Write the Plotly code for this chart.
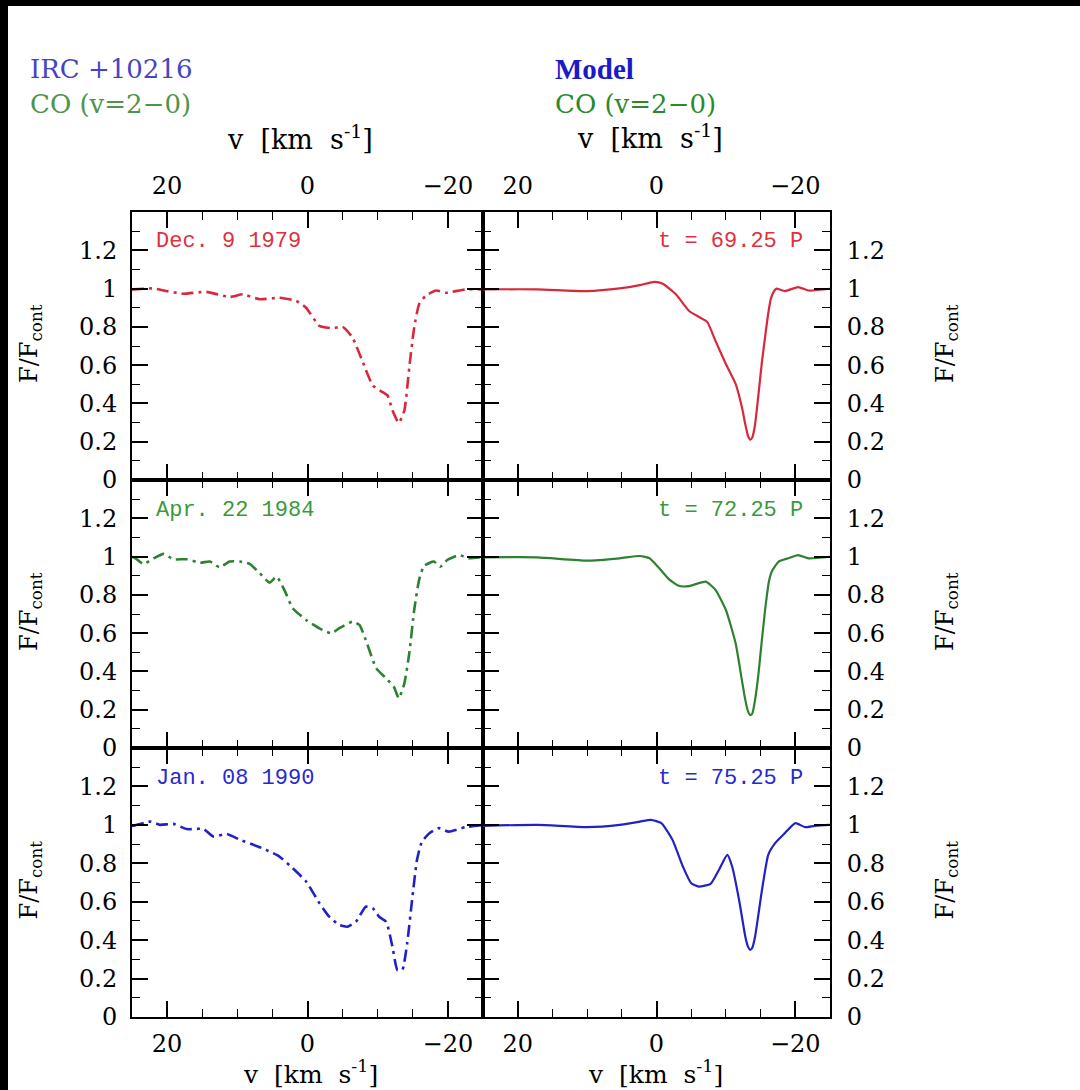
import plotly.graph_objects as go

# ---------------- data ----------------
v_obs_1979 = [25.0, 24.8, 21.9, 20.5, 17.7, 14.4, 11.1, 9.2, 6.8, 4.0, 1.6, 0.2, -1.7, -3.6, -5.0, -6.4,
              -7.8, -9.3, -10.7, -11.4, -12.1, -13.0, -13.8, -14.5, -15.2, -15.9, -16.8, -18.3, -19.7,
              -22.5, -25.0]
f_obs_1979 = [0.996, 0.996, 1.001, 0.99, 0.973, 0.983, 0.956, 0.97, 0.944, 0.952, 0.935, 0.90, 0.805,
              0.793, 0.80, 0.745, 0.623, 0.494, 0.459, 0.442, 0.364, 0.298, 0.364, 0.589, 0.797, 0.918,
              0.961, 0.99, 0.978, 0.996, 0.996]

v_mod_1979 = [25.0, 17.2, 10.0, 5.3, 2.4, 0.3, -0.9, -2.8, -4.7, -6.1, -7.3, -8.5, -10.0, -11.4,
              -12.3, -12.8, -13.2, -13.5, -13.8, -14.2, -14.7, -15.2, -15.7, -16.1, -16.5, -17.0, -17.3,
              -18.5, -20.4, -21.9, -25.0]
f_mod_1979 = [0.996, 0.996, 0.987, 1.001, 1.018, 1.035, 1.025, 0.97, 0.883, 0.852, 0.826, 0.727,
              0.606, 0.502, 0.381, 0.29, 0.228, 0.211, 0.222, 0.29, 0.45, 0.62, 0.762, 0.87, 0.95, 0.99,
              1.0, 0.987, 1.008, 0.99, 0.999]

v_obs_1984 = [25.0, 24.5, 23.4, 21.9, 20.5, 19.1, 17.2, 15.3, 13.9, 12.5, 11.1, 9.6, 8.2, 6.8, 5.4, 4.4,
              3.3, 2.1, 0.2, -1.7, -3.4, -4.5, -6.4, -7.4, -8.3, -9.8, -11.2, -12.3, -13.0, -13.8, -14.5,
              -15.2, -15.9, -16.6, -18.0, -18.9, -19.9, -21.6, -23.0, -25.0]
f_obs_1984 = [0.999, 0.991, 0.961, 0.991, 1.014, 0.986, 0.986, 0.968, 0.974, 0.944, 0.974, 0.974, 0.961,
              0.913, 0.864, 0.895, 0.826, 0.73, 0.669, 0.625, 0.599, 0.625, 0.66, 0.643, 0.564, 0.416,
              0.364, 0.32, 0.26, 0.338, 0.495, 0.721, 0.878, 0.951, 0.974, 0.947, 0.982, 1.008, 0.991,
              0.999]

v_mod_1984 = [25.0, 17.2, 10.0, 5.3, 2.4, 1.0, -0.4, -1.9, -3.3, -4.7, -7.1, -8.5, -10.0, -11.4, -12.3,
              -12.8, -13.2, -13.5, -13.8, -14.2, -14.7, -15.2, -15.7, -16.2, -16.6, -17.6, -19.0, -20.4,
              -21.9, -25.0]
f_mod_1984 = [0.996, 0.996, 0.979, 0.991, 1.003, 0.991, 0.939, 0.878, 0.846, 0.846, 0.869, 0.826, 0.721,
              0.547, 0.355, 0.25, 0.19, 0.172, 0.18, 0.25, 0.39, 0.57, 0.738, 0.87, 0.921, 0.974, 0.991,
              1.008, 0.991, 0.999]

v_obs_1990 = [25.0, 24.8, 22.4, 21.0, 19.1, 17.2, 14.8, 13.4, 11.5, 9.6, 7.7, 5.9, 4.0, 2.1, 0.2, -1.7,
              -3.1, -4.5, -5.7, -6.9, -8.3, -9.3, -10.2, -11.2, -12.1, -12.8, -13.5, -14.2, -14.9, -15.6,
              -16.3, -17.5, -18.7, -20.1, -22.5, -25.0]
f_obs_1990 = [0.995, 0.995, 1.017, 1.0, 1.005, 0.978, 0.978, 0.939, 0.953, 0.922, 0.896, 0.87, 0.835,
              0.774, 0.705, 0.592, 0.522, 0.479, 0.47, 0.496, 0.574, 0.566, 0.522, 0.496, 0.366, 0.245,
              0.245, 0.384, 0.609, 0.818, 0.913, 0.96, 0.983, 0.965, 0.988, 1.0]

v_mod_1990 = [25.0, 17.2, 10.0, 5.3, 2.4, 0.8, -0.7, -2.3, -3.8, -5.0, -6.1, -7.8, -9.0, -10.2, -10.9,
              -11.9, -12.8, -13.2, -13.5, -13.8, -14.2, -15.2, -16.1, -17.1, -18.5, -20.0, -21.4, -22.8,
              -25.0]
f_mod_1990 = [0.995, 1.0, 0.988, 1.0, 1.017, 1.026, 1.009, 0.922, 0.783, 0.696, 0.679, 0.693, 0.766,
              0.844, 0.783, 0.609, 0.418, 0.365, 0.349, 0.36, 0.418, 0.661, 0.844, 0.905, 0.957, 1.009,
              0.988, 0.995, 1.0]

obs_labels = ["Dec. 9 1979", "Apr. 22 1984", "Jan. 08 1990"]
mod_labels = ["t = 69.25 P", "t = 72.25 P", "t = 75.25 P"]
row_colors = ["#d8283c", "#2c8230", "#2222c4"]
label_colors = ["#e0303c", "#3a9a3a", "#2828d0"]

x_ticks = [20, 0, -20]
y_ticks = [0, 0.2, 0.4, 0.6, 0.8, 1.0, 1.2]
y_ticktext = ["0", "0.2", "0.4", "0.6", "0.8", "1", "1.2"]

# ---------------- geometry ----------------
W, H = 1080, 1090
col_px = [(132, 483), (483, 830)]
row_px = [(212, 480), (480, 748), (748, 1017)]

def xd(a, b):
    return [a / W, b / W]

def yd(top, bot):
    return [1 - bot / H, 1 - top / H]

TICKFONT = dict(family="DejaVu Serif", size=24, color="black")
NB = "\u00a0"

fig = go.Figure()
obs_sets = [(v_obs_1979, f_obs_1979), (v_obs_1984, f_obs_1984), (v_obs_1990, f_obs_1990)]
mod_sets = [(v_mod_1979, f_mod_1979), (v_mod_1984, f_mod_1984), (v_mod_1990, f_mod_1990)]

layout_axes = {}
annotations = []
for r in range(3):
    for c in range(2):
        k = r * 2 + c + 1
        xs = "" if k == 1 else str(k)
        vv, ff = (obs_sets[r] if c == 0 else mod_sets[r])
        fig.add_trace(go.Scatter(
            x=vv, y=ff, mode="lines", xaxis="x" + xs, yaxis="y" + xs,
            line=dict(color=row_colors[r], width=2.6 if c == 0 else 2.2,
                      dash="12px,5px,3px,5px" if c == 0 else "solid",
                      shape="spline", smoothing=0.5),
            showlegend=False, hoverinfo="skip"))
        xa = dict(domain=xd(*col_px[c]), anchor="y" + xs, range=[25, -25],
                  tickmode="array", tickvals=x_ticks, ticks="inside", ticklen=16, tickwidth=1.6,
                  tickcolor="black",
                  minor=dict(tickmode="linear", tick0=0, dtick=5, ticks="inside", ticklen=8,
                             tickwidth=1.4, tickcolor="black"),
                  showline=True, mirror="allticks", linecolor="black", linewidth=2,
                  showgrid=False, zeroline=False, tickfont=TICKFONT,
                  side="top" if r == 0 else "bottom",
                  showticklabels=(r != 1), ticklabelstandoff=6 if r == 0 else 4)
        ya = dict(domain=yd(*row_px[r]), anchor="x" + xs, range=[0, 1.4],
                  tickmode="array", tickvals=y_ticks, ticktext=y_ticktext,
                  ticks="inside", ticklen=16, tickwidth=1.6, tickcolor="black",
                  minor=dict(tickmode="linear", tick0=0, dtick=0.1, ticks="inside", ticklen=8,
                             tickwidth=1.4, tickcolor="black"),
                  showline=True, mirror="allticks", linecolor="black", linewidth=2,
                  showgrid=False, zeroline=False, tickfont=TICKFONT,
                  side="left" if c == 0 else "right", ticklabelstandoff=8 if c == 0 else 10)
        layout_axes["xaxis" + xs] = xa
        layout_axes["yaxis" + xs] = ya

    # panel labels
    top = row_px[r][0]
    annotations.append(dict(text=obs_labels[r], x=154 / W, y=1 - (top + 30) / H, xref="paper",
                            yref="paper", xanchor="left", yanchor="middle", showarrow=False,
                            font=dict(family="Liberation Mono", size=22, color=label_colors[r])))
    annotations.append(dict(text=mod_labels[r], x=805 / W, y=1 - (top + 30) / H, xref="paper",
                            yref="paper", xanchor="right", yanchor="middle", showarrow=False,
                            font=dict(family="Liberation Mono", size=22, color=label_colors[r])))
    mid = (row_px[r][0] + row_px[r][1]) / 2
    for xp in (30, 946):
        annotations.append(dict(text="F/F<sub>cont</sub>", x=xp / W, y=1 - (mid - 2) / H,
                                xref="paper", yref="paper", xanchor="center", yanchor="middle",
                                showarrow=False, textangle=-90,
                                font=dict(family="DejaVu Serif", size=24, color="black")))

title_text = "v" + NB + NB + "[km" + NB + NB + "s<sup>-1</sup>]"
for (xp, yp, fs) in [(300, 138, 27), (650, 136, 27), (310, 1072, 25), (655, 1072, 25)]:
    annotations.append(dict(text=title_text, x=xp / W, y=1 - yp / H, xref="paper",
                            yref="paper", xanchor="center", yanchor="middle", showarrow=False,
                            font=dict(family="DejaVu Serif", size=fs, color="black")))

annotations += [
    dict(text="IRC +10216", x=28 / W, y=1 - 69 / H, xref="paper", yref="paper", xanchor="left",
         yanchor="middle", showarrow=False,
         font=dict(family="DejaVu Serif", size=26, color="#4444c4")),
    dict(text="CO (v=2\u22120)", x=28 / W, y=1 - 104 / H, xref="paper", yref="paper",
         xanchor="left", yanchor="middle", showarrow=False,
         font=dict(family="DejaVu Serif", size=26, color="#4e944e")),
    dict(text="<b>Model</b>", x=553 / W, y=1 - 69 / H, xref="paper", yref="paper",
         xanchor="left", yanchor="middle", showarrow=False,
         font=dict(family="Liberation Serif", size=29, color="#1a1ac8")),
    dict(text="CO (v=2\u22120)", x=553 / W, y=1 - 104 / H, xref="paper", yref="paper",
         xanchor="left", yanchor="middle", showarrow=False,
         font=dict(family="DejaVu Serif", size=26, color="#2a8a2a")),
]

shapes = [
    dict(type="rect", xref="paper", yref="paper", x0=0, x1=8 / W, y0=0, y1=1,
         fillcolor="black", line=dict(width=0), layer="above"),
    dict(type="rect", xref="paper", yref="paper", x0=0, x1=1, y0=1 - 6 / H, y1=1,
         fillcolor="black", line=dict(width=0), layer="above"),
]

fig.update_layout(width=W, height=H, margin=dict(l=0, r=0, t=0, b=0, autoexpand=False),
                  paper_bgcolor="white", plot_bgcolor="white",
                  annotations=annotations, shapes=shapes, **layout_axes)

fig.write_html("out.html")
